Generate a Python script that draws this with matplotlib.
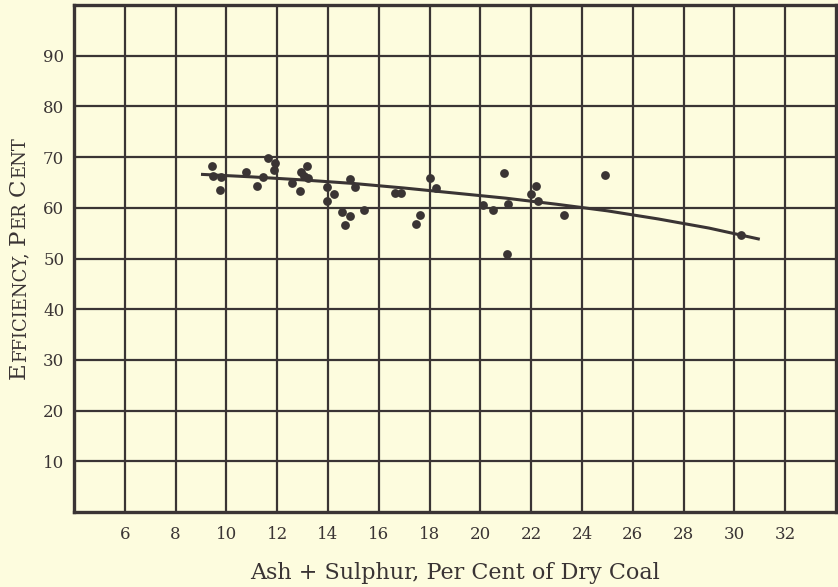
import matplotlib
matplotlib.use("Agg")
import matplotlib.pyplot as plt

# ---- data ----
ash_sulphur = [9.43, 9.47, 9.80, 9.76, 10.76, 11.19, 11.45, 11.65, 11.91, 11.88,
               12.57, 12.90, 12.94, 13.17, 13.07, 13.23, 13.98, 13.98, 14.22, 14.85,
               15.08, 14.55, 14.88, 14.68, 15.41, 16.62, 16.89, 18.01, 18.24, 17.61,
               17.45, 20.92, 20.09, 20.51, 21.10, 21.05, 22.00, 22.17, 22.27, 23.28,
               24.90, 30.25]
efficiency = [68.2, 66.3, 66.1, 63.5, 67.1, 64.3, 66.1, 69.9, 68.8, 67.4,
              64.8, 63.3, 67.1, 68.2, 66.3, 65.8, 64.1, 61.4, 62.8, 65.6,
              64.2, 59.2, 58.4, 56.7, 59.5, 62.9, 62.9, 65.8, 63.9, 58.6,
              56.9, 66.9, 60.6, 59.5, 60.7, 50.9, 62.7, 64.3, 61.4, 58.6,
              66.4, 54.7]
curve_x = [9.0, 11.0, 13.0, 15.0, 17.0, 19.0, 21.0, 23.0, 25.0, 27.0, 29.0, 31.0]
curve_y = [66.6, 66.1, 65.5, 64.8, 63.9, 62.9, 61.9, 60.7, 59.4, 57.8, 56.0, 53.8]
x_ticks = [6, 8, 10, 12, 14, 16, 18, 20, 22, 24, 26, 28, 30, 32]
y_ticks = [10, 20, 30, 40, 50, 60, 70, 80, 90]
x_label = "Ash + Sulphur, Per Cent of Dry Coal"
y_label_parts = [("E", True), ("FFICIENCY,", False), ("P", True), ("ER", False),
                 ("C", True), ("ENT", False)]

BG = "#fdfcde"
INK = "#3a3434"
FONT = "DejaVu Serif"

fig = plt.figure(figsize=(8.38, 5.87), dpi=100, facecolor=BG)
ax = fig.add_axes([74 / 838, 75 / 587, 762 / 838, 507 / 587])
ax.set_facecolor(BG)
ax.set_xlim(4, 34)
ax.set_ylim(0, 100)

for xv in x_ticks:
    ax.axvline(xv, color=INK, lw=1.6, zorder=1)
for yv in y_ticks:
    ax.axhline(yv, color=INK, lw=1.6, zorder=1)

ax.plot(curve_x, curve_y, color=INK, lw=2.2, zorder=3, solid_capstyle="butt")
ax.scatter(ash_sulphur, efficiency, s=40, color=INK, zorder=4, linewidths=0)

for sp in ax.spines.values():
    sp.set_color(INK)
    sp.set_linewidth(2.4)

ax.set_xticks(x_ticks)
ax.set_yticks(y_ticks)
ax.tick_params(length=0, labelsize=12, labelcolor=INK)
ax.tick_params(axis="x", pad=10)
ax.tick_params(axis="y", pad=7)
for lab in ax.get_xticklabels() + ax.get_yticklabels():
    lab.set_family(FONT)
ax.set_xlabel(x_label, family=FONT, fontsize=16, color=INK, labelpad=14)

# small-caps y label built from pieces
big, small = 16.5, 13
BASE_X = 25 / 838
texts = []
first = fig.text(BASE_X, 0.2, y_label_parts[0][0], rotation=90,
                 rotation_mode="anchor", ha="left", va="baseline",
                 family=FONT, fontsize=big, color=INK)
texts.append(first)
prev = first
for s, is_big in y_label_parts[1:]:
    gap = 4.5 if is_big else 0.4
    a = ax.annotate(s, xy=(BASE_X, 1.0), xycoords=("figure fraction", prev),
                    xytext=(0, gap), textcoords="offset points",
                    rotation=90, rotation_mode="anchor", ha="left", va="baseline",
                    family=FONT, fontsize=big if is_big else small, color=INK,
                    annotation_clip=False)
    texts.append(a)
    prev = a

fig.canvas.draw()
r = fig.canvas.get_renderer()
y0 = texts[0].get_window_extent(r).y0
y1 = texts[-1].get_window_extent(r).y1
length = y1 - y0
center = 587 - 258.5
first.set_position((BASE_X, (center - length / 2) / 587))

fig.savefig("out.png", dpi=100, facecolor=BG)
